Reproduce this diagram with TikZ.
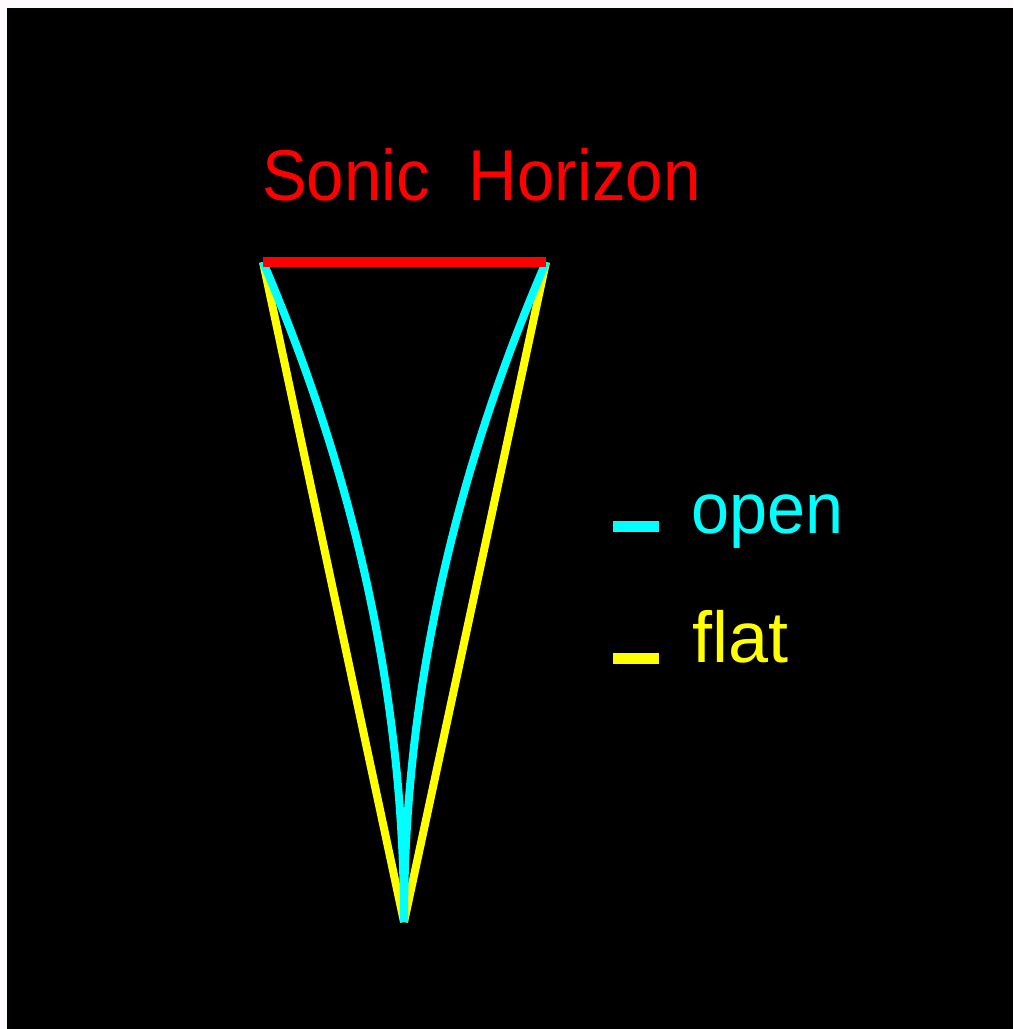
\documentclass[tikz,border=0pt]{standalone}
\usepackage{fontspec}
\setmainfont{Liberation Sans}
\definecolor{pagewhite}{RGB}{253,249,253}
\definecolor{hred}{RGB}{255,0,0}
\definecolor{hcyan}{RGB}{0,255,255}
\definecolor{hyellow}{RGB}{255,255,0}
\begin{document}
\begin{tikzpicture}[x=0.5pt,y=-0.5pt,
  labeltext/.style={inner sep=0pt, outer sep=0pt, anchor=base west, font=\fontsize{36}{40}\selectfont},
  horizonline/.style={draw=hred, line width=5pt},
  flatline/.style={draw=hyellow, line width=4pt},
  openline/.style={draw=hcyan, line width=4pt},
  keyline/.style={line width=5.5pt}]
\useasboundingbox (0,0) rectangle (1013,1029);
\fill[pagewhite] (0,0) rectangle (1013,1029);
\fill[black] (7,8) rectangle (1013,1029);
% key points
\coordinate (L) at (263,262);
\coordinate (R) at (546,262);
\coordinate (A) at (404,922);
\coordinate (CL) at (357,482);
\coordinate (CR) at (451,482);
\coordinate (CA) at (404,702);
% flat (yellow) straight sides
\draw[flatline] (L) -- (A);
\draw[flatline] (R) -- (A);
% open (cyan) curved sides (parabolic)
\draw[openline] (L) .. controls (CL) and (CA) .. (A);
\draw[openline] (R) .. controls (CR) and (CA) .. (A);
% sonic horizon
\draw[horizonline] (L) -- (R);
\node[labeltext, text=hred] (title) at (262,200) {\scalebox{0.935}[1]{Sonic\hspace{0.57em}Horizon}};
% legend
\coordinate (k1a) at (613,526);
\coordinate (k1b) at (659,526);
\coordinate (k2a) at (613,658);
\coordinate (k2b) at (659,658);
\draw[keyline, hcyan] (k1a) -- (k1b);
\draw[keyline, hyellow] (k2a) -- (k2b);
\node[labeltext, text=hcyan] (open) at (691,533) {\scalebox{0.95}[1]{open}};
\node[labeltext, text=hyellow] (flat) at (692,662) {flat};
\end{tikzpicture}
\end{document}
